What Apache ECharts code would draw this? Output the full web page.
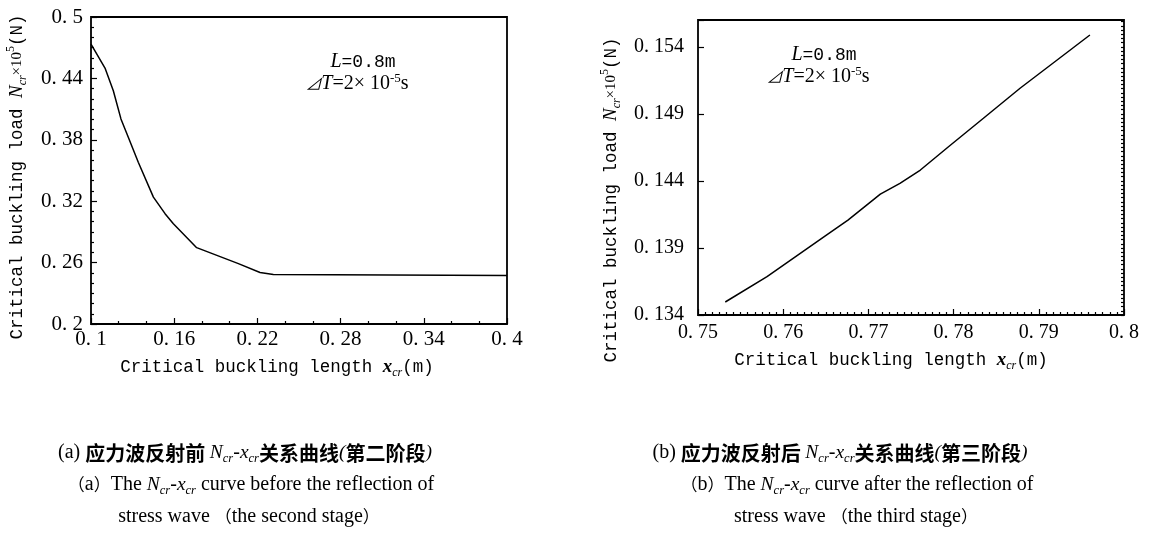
<!DOCTYPE html>
<html>
<head>
<meta charset="utf-8">
<script src="https://cdn.jsdelivr.net/npm/echarts@6/dist/echarts.min.js"></script>
<style>
  html, body { margin: 0; padding: 0; background: #fff; }
  #chart { width: 1149px; height: 536px; }
</style>
</head>
<body>
<div id="chart"></div>
<script>
// (a) second stage: before the stress wave is reflected
const lengthBefore = [0.1, 0.1101, 0.1161, 0.1216, 0.1269, 0.1341, 0.145, 0.1534, 0.1594, 0.1762, 0.2063, 0.2219, 0.2315, 0.4];
const loadBefore   = [0.4735, 0.4501, 0.428, 0.4004, 0.3825, 0.3581, 0.324, 0.3078, 0.298, 0.2746, 0.259, 0.2503, 0.2483, 0.2475];

// (b) third stage: after the stress wave is reflected
const lengthAfter = [0.7532, 0.7581, 0.7649, 0.7676, 0.7714, 0.7737, 0.7761, 0.7794, 0.7835, 0.7878, 0.796];
const loadAfter   = [0.13497, 0.13686, 0.13989, 0.14108, 0.14302, 0.14382, 0.14481, 0.14655, 0.14867, 0.15091, 0.15488];

// axis tick values
const xTicksA = [0.1, 0.16, 0.22, 0.28, 0.34, 0.4];
const yTicksA = [0.2, 0.26, 0.32, 0.38, 0.44, 0.5];
const xTicksB = [0.75, 0.76, 0.77, 0.78, 0.79, 0.8];
const yTicksB = [0.134, 0.139, 0.144, 0.149, 0.154];
const yMaxB = 0.156;

const MONO = '"Liberation Mono", "DejaVu Sans Mono", monospace';
const SERIF = '"Liberation Serif", "DejaVu Serif", serif';
const CJK = '"Noto Sans CJK SC", sans-serif';

function pairs(xs, ys) { return xs.map((x, i) => [x, ys[i]]); }
function step(t) { return +(t[1] - t[0]).toFixed(6); }
// tick text is set with a gap after the decimal point
function tickLabel(list) {
  return v => {
    const hit = list.find(t => Math.abs(t - v) < 1e-7);
    return hit === undefined ? '' : String(hit).replace('.', '. ');
  };
}

const labelStyle = (size) => ({ fontFamily: SERIF, fontSize: size, color: '#000' });

// rich-text pieces shared by titles and notes
const rich = {
  a:   { fontFamily: MONO, fontSize: 17.5, color: '#000', lineHeight: 24, verticalAlign: 'middle' },
  ib:  { fontFamily: SERIF, fontStyle: 'italic', fontWeight: 'bold', fontSize: 19, color: '#000', lineHeight: 24, verticalAlign: 'middle' },
  i:   { fontFamily: SERIF, fontStyle: 'italic', fontSize: 19, color: '#000', lineHeight: 24, verticalAlign: 'middle' },
  s:   { fontFamily: SERIF, fontStyle: 'italic', fontSize: 12, color: '#000', lineHeight: 12, verticalAlign: 'bottom' },
  t:   { fontFamily: SERIF, fontSize: 15, color: '#000', lineHeight: 24, verticalAlign: 'middle' },
  sup: { fontFamily: SERIF, fontSize: 12, color: '#000', lineHeight: 12, verticalAlign: 'top' },
  nL:  { fontFamily: SERIF, fontStyle: 'italic', fontSize: 20, color: '#000', lineHeight: 24, verticalAlign: 'middle' },
  nM:  { fontFamily: MONO, fontSize: 18, color: '#000', lineHeight: 24, verticalAlign: 'middle' },
  nS:  { fontFamily: SERIF, fontSize: 20, color: '#000', lineHeight: 24, verticalAlign: 'middle' },
  nSup:{ fontFamily: SERIF, fontSize: 13, color: '#000', lineHeight: 12, verticalAlign: 'top' },
  nTri:{ fontFamily: CJK, fontStyle: 'italic', fontSize: 16, color: '#000', lineHeight: 24, verticalAlign: 'middle' }
};

const capRich = {
  p:  { fontFamily: SERIF, fontSize: 20, color: '#000', lineHeight: 24, verticalAlign: 'middle' },
  w:  { fontFamily: CJK, fontSize: 17, color: '#000', lineHeight: 24, verticalAlign: 'middle' },
  h:  { fontFamily: CJK, fontWeight: 'bold', fontSize: 20, color: '#000', lineHeight: 24, verticalAlign: 'middle' },
  i:  { fontFamily: SERIF, fontStyle: 'italic', fontSize: 19.5, color: '#000', lineHeight: 24, verticalAlign: 'middle' },
  s:  { fontFamily: SERIF, fontStyle: 'italic', fontSize: 12.5, color: '#000', lineHeight: 12, verticalAlign: 'bottom' }
};

function text(x, y, str, opts) {
  return Object.assign({
    type: 'text', x: x, y: y, silent: true,
    style: { text: str, rich: rich, align: 'center', verticalAlign: 'middle' }
  }, opts || {});
}
function caption(x, y, str) {
  return { type: 'text', x: x, y: y, silent: true,
    style: { text: str, rich: capRich, align: 'center', verticalAlign: 'middle' } };
}

const yTitle = '{a|Critical buckling load }{i|N}{s|cr}{t|×10}{sup|5}{a|(N)}';
const xTitle = '{a|Critical buckling length }{ib|x}{s|cr}{a|(m)}';
const note1 = '{nL|L}{nM|=0.8}{nM|m}';
const note2 = '{nTri|⊿}{nL|T}{nS|=2× 10}{nSup|-5}{nS|s}';

const chart = echarts.init(document.getElementById('chart'), null, { renderer: 'canvas' });

const commonX = {
  type: 'value',
  axisLine: { show: false },
  splitLine: { show: false },
  axisTick: { inside: true, length: 6, lineStyle: { color: '#000', width: 1.2 } },
  minorTick: { show: true, length: 3, lineStyle: { color: '#000', width: 1.2 } }
};

chart.setOption({
  animation: false,
  backgroundColor: '#fff',
  grid: [
    { left: 91, top: 17, width: 416, height: 307, show: true, borderColor: '#000', borderWidth: 1.8, backgroundColor: 'transparent' },
    { left: 698, top: 20, width: 426, height: 295, show: true, borderColor: '#000', borderWidth: 1.8, backgroundColor: 'transparent' }
  ],
  xAxis: [
    Object.assign({}, commonX, {
      gridIndex: 0, min: xTicksA[0], max: xTicksA[xTicksA.length - 1], interval: step(xTicksA),
      minorTick: Object.assign({}, commonX.minorTick, { splitNumber: 3 }),
      axisLabel: Object.assign(labelStyle(21), { margin: 5, formatter: tickLabel(xTicksA) })
    }),
    Object.assign({}, commonX, {
      gridIndex: 1, min: xTicksB[0], max: xTicksB[xTicksB.length - 1], interval: step(xTicksB),
      minorTick: Object.assign({}, commonX.minorTick, { splitNumber: 12 }),
      axisLabel: Object.assign(labelStyle(20), { margin: 8, formatter: tickLabel(xTicksB) })
    })
  ],
  yAxis: [
    Object.assign({}, commonX, {
      gridIndex: 0, min: yTicksA[0], max: yTicksA[yTicksA.length - 1], interval: step(yTicksA),
      minorTick: Object.assign({}, commonX.minorTick, { splitNumber: 6 }),
      axisLabel: Object.assign(labelStyle(21), { margin: 8, formatter: tickLabel(yTicksA) })
    }),
    Object.assign({}, commonX, {
      gridIndex: 1, min: yTicksB[0], max: yMaxB, interval: step(yTicksB),
      minorTick: { show: false },
      axisLabel: Object.assign(labelStyle(20), { margin: 14, formatter: tickLabel(yTicksB) })
    }),
    // fine graduation along the left edge of (b)
    Object.assign({}, commonX, {
      gridIndex: 1, min: yTicksB[0], max: yMaxB, interval: step(yTicksB) / 16,
      axisTick: { inside: true, length: 3, lineStyle: { color: '#000', width: 1.2 } },
      minorTick: { show: false },
      axisLabel: { show: false }
    })
  ],
  series: [
    { type: 'line', xAxisIndex: 0, yAxisIndex: 0, data: pairs(lengthBefore, loadBefore),
      showSymbol: false, symbol: 'none', lineStyle: { color: '#000', width: 1.5 }, silent: true },
    { type: 'line', xAxisIndex: 1, yAxisIndex: 1, data: pairs(lengthAfter, loadAfter),
      showSymbol: false, symbol: 'none', lineStyle: { color: '#000', width: 1.5 }, silent: true }
  ],
  graphic: [
    text(17, 177, yTitle, { rotation: Math.PI / 2 }),
    text(277, 367, xTitle),
    text(611, 200, yTitle, { rotation: Math.PI / 2 }),
    text(891, 360, xTitle),
    text(363, 62, note1),
    text(357, 84, note2),
    text(824, 55, note1),
    text(818, 77, note2),
    caption(245, 453, '{p|(a) }{h|应力波反射前 }{i|N}{s|cr}{p|-}{i|x}{s|cr}{h|关系曲线}{i|(}{h|第二阶段}{i|)}'),
    caption(251, 485, '{w|（}{p|a}{w|）}{p|The }{i|N}{s|cr}{p|-}{i|x}{s|cr}{p| curve before the reflection of}'),
    caption(249, 517, '{p|stress wave }{w|（}{p|the second stage}{w|）}'),
    caption(840, 453, '{p|(b) }{h|应力波反射后 }{i|N}{s|cr}{p|-}{i|x}{s|cr}{h|关系曲线}{i|(}{h|第三阶段}{i|)}'),
    caption(857, 485, '{w|（}{p|b}{w|）}{p|The }{i|N}{s|cr}{p|-}{i|x}{s|cr}{p| curve after the reflection of}'),
    caption(856, 517, '{p|stress wave }{w|（}{p|the third stage}{w|）}')
  ]
});
</script>
</body>
</html>
